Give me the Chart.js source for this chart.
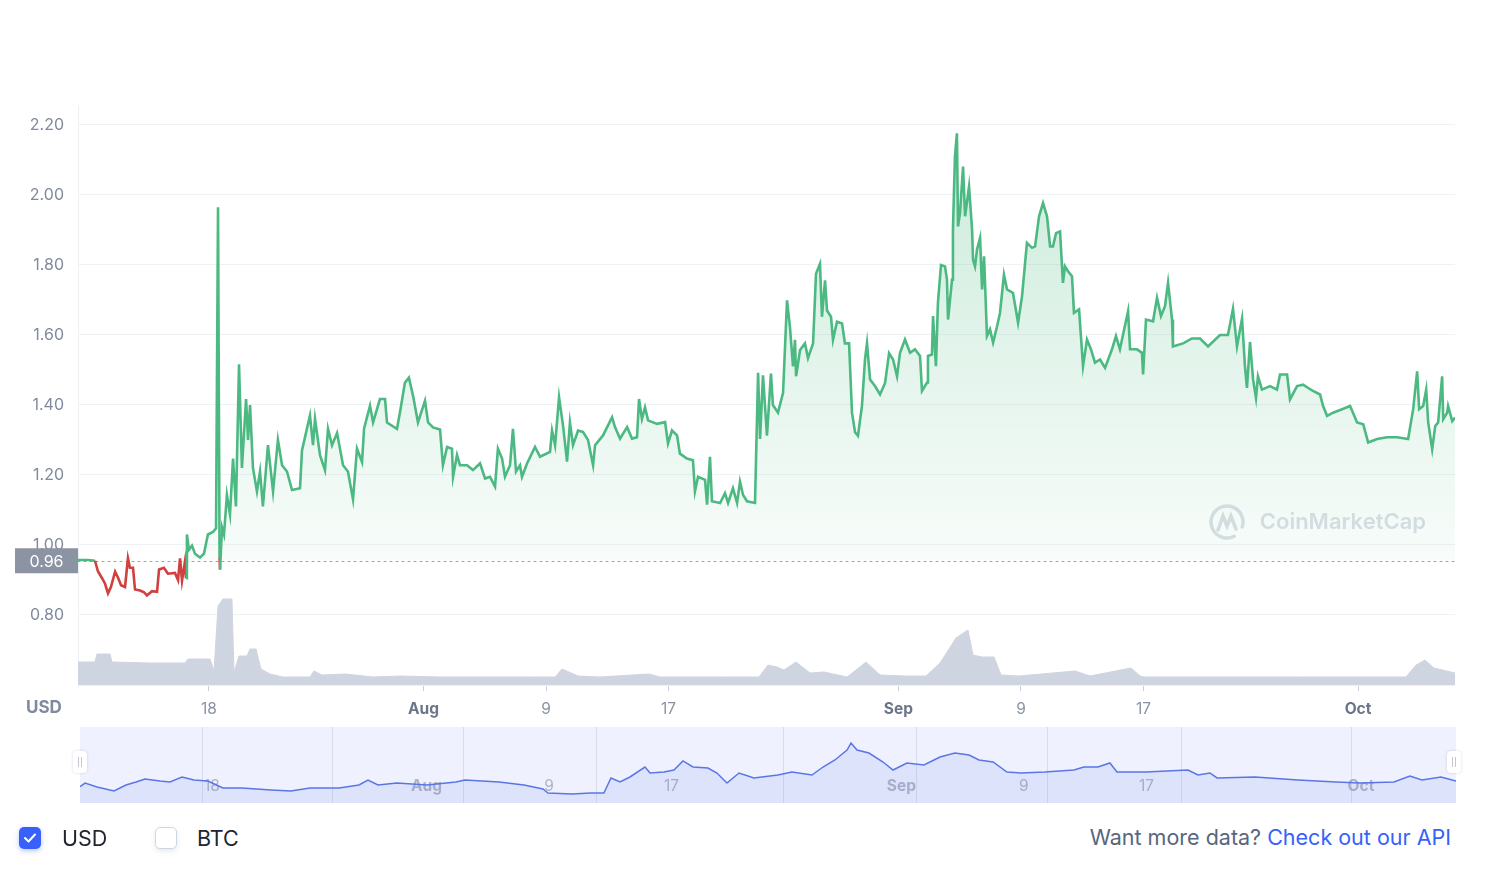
<!DOCTYPE html>
<html>
<head>
<meta charset="utf-8">
<script src="https://cdn.jsdelivr.net/npm/chart.js@4.4.1/dist/chart.umd.min.js"></script>
<style>
  body { margin: 0; background: #fff; font-family: Inter, "Noto Sans", sans-serif; }
  #wrap { position: relative; width: 1488px; height: 876px; overflow: hidden; }
  #main { position: absolute; left: 0; top: 0; }
  #nav { position: absolute; left: 0; top: 720px; }
  .unit { position: absolute; left: 26px; top: 697px; font: 700 17px Inter; color: #808a9d; }
  .cb { position: absolute; width: 22px; height: 22px; border-radius: 5px; box-sizing: border-box; }
  .cb.on { background: #3861fb; box-shadow: 0 2px 5px rgba(56,97,251,0.35); }
  .cb.off { background: #fff; border: 1px solid #cfd6e4; box-shadow: 0 2px 5px rgba(88,102,126,0.15); }
  .lbl { position: absolute; font: 400 21.5px Inter; color: #222531; line-height: 26px; }
  .api { position: absolute; right: 37px; top: 824px; font: 400 21.5px Inter; color: #58667e; line-height: 26px; }
  .api span { color: #3861fb; }
</style>
</head>
<body>
<div id="wrap">
  <canvas id="main" width="1488" height="720"></canvas>
  <canvas id="nav" width="1488" height="90"></canvas>
  <div class="unit">USD</div>
  <div class="cb on" style="left:19px;top:827px">
    <svg width="22" height="22" viewBox="0 0 22 22"><polyline points="6,11 9.5,14.5 16,7.5" fill="none" stroke="#fff" stroke-width="2" stroke-linecap="round" stroke-linejoin="round"/></svg>
  </div>
  <div class="lbl" style="left:62px;top:825px">USD</div>
  <div class="cb off" style="left:155px;top:827px"></div>
  <div class="lbl" style="left:197px;top:825px">BTC</div>
  <div class="api">Want more data? <span>Check out our API</span></div>
</div>
<script>
// x values are days counted from 1 July (18 = Jul 18, 32 = Aug 1, 63 = Sep 1, 93 = Oct 1)
const basePrice = 0.955;
const baseLabel = '0.96';

const price = [
  [9.45,0.957],[10.10,0.957],[10.56,0.955],[10.75,0.925],[11.02,0.905],[11.21,0.89],[11.41,0.862],[11.60,0.88],
  [11.87,0.924],[12.06,0.907],[12.26,0.885],[12.52,0.88],[12.71,0.962],[12.84,0.935],[13.04,0.935],[13.17,0.873],
  [13.50,0.87],[13.76,0.865],[13.95,0.856],[14.28,0.868],[14.61,0.866],[14.74,0.93],[15.06,0.935],[15.32,0.918],
  [15.78,0.92],[15.98,0.90],[16.11,0.962],[16.24,0.898],[16.43,0.952],[16.50,0.905],[16.56,1.03],[16.69,0.986],
  [16.89,0.998],[17.09,0.975],[17.41,0.964],[17.67,0.975],[17.93,1.03],[18.26,1.037],[18.46,1.048],[18.59,1.965],
  [18.69,0.965],[18.72,0.93],[18.85,1.05],[18.98,1.03],[19.17,1.143],[19.37,1.088],[19.57,1.247],[19.76,1.11],
  [19.96,1.516],[20.15,1.22],[20.42,1.417],[20.55,1.30],[20.68,1.40],[20.87,1.22],[21.13,1.153],[21.33,1.21],
  [21.52,1.11],[21.85,1.285],[22.18,1.153],[22.50,1.30],[22.77,1.228],[23.09,1.21],[23.42,1.157],[23.94,1.162],
  [24.07,1.27],[24.59,1.37],[24.79,1.285],[24.92,1.36],[25.25,1.256],[25.57,1.214],[25.77,1.332],[26.03,1.285],
  [26.36,1.32],[26.75,1.228],[27.07,1.21],[27.40,1.13],[27.66,1.275],[27.99,1.237],[28.12,1.332],[28.51,1.398],
  [28.71,1.35],[29.16,1.417],[29.49,1.417],[29.62,1.35],[30.27,1.332],[30.47,1.38],[30.79,1.464],[31.05,1.478],
  [31.32,1.426],[31.64,1.35],[32.10,1.412],[32.30,1.35],[32.62,1.336],[33.08,1.33],[33.27,1.228],[33.54,1.28],
  [33.86,1.275],[33.93,1.195],[34.19,1.257],[34.38,1.228],[34.84,1.228],[35.23,1.214],[35.69,1.233],[36.02,1.19],
  [36.34,1.195],[36.67,1.167],[36.86,1.275],[37.13,1.247],[37.32,1.195],[37.65,1.228],[37.84,1.332],[38.04,1.21],
  [38.30,1.228],[38.43,1.195],[38.76,1.233],[39.28,1.28],[39.61,1.252],[40.26,1.266],[40.39,1.327],[40.59,1.285],
  [40.85,1.422],[41.11,1.341],[41.37,1.238],[41.56,1.35],[41.76,1.285],[42.09,1.327],[42.41,1.323],[42.74,1.30],
  [43.07,1.228],[43.20,1.285],[43.72,1.313],[44.31,1.365],[44.50,1.337],[44.83,1.304],[45.29,1.337],[45.61,1.304],
  [45.94,1.308],[46.07,1.417],[46.26,1.36],[46.46,1.393],[46.66,1.356],[47.24,1.346],[47.77,1.351],[47.96,1.29],
  [48.22,1.327],[48.55,1.313],[48.74,1.261],[49.20,1.247],[49.59,1.242],[49.72,1.153],[49.92,1.195],[50.38,1.186],
  [50.51,1.115],[50.70,1.252],[50.83,1.125],[51.36,1.12],[51.68,1.148],[51.88,1.12],[52.20,1.162],[52.47,1.12],
  [52.66,1.181],[52.86,1.143],[53.12,1.125],[53.64,1.12],[53.84,1.492],[53.97,1.303],[54.16,1.485],[54.42,1.312],
  [54.68,1.49],[54.81,1.40],[55.14,1.378],[55.47,1.435],[55.73,1.699],[55.92,1.623],[56.12,1.51],[56.25,1.586],
  [56.32,1.482],[56.58,1.557],[56.90,1.576],[57.10,1.534],[57.43,1.576],[57.62,1.775],[57.88,1.803],[58.01,1.652],
  [58.21,1.756],[58.34,1.67],[58.60,1.652],[58.73,1.586],[58.99,1.638],[59.32,1.633],[59.51,1.576],[59.78,1.576],
  [59.97,1.378],[60.17,1.322],[60.36,1.312],[60.62,1.397],[60.82,1.53],[60.95,1.576],[61.15,1.473],[61.47,1.454],
  [61.80,1.43],[62.13,1.463],[62.39,1.548],[62.65,1.53],[62.91,1.482],[63.10,1.548],[63.43,1.587],[63.76,1.549],
  [64.08,1.559],[64.41,1.54],[64.54,1.44],[64.87,1.464],[64.93,1.54],[65.19,1.544],[65.26,1.654],[65.45,1.511],
  [65.58,1.692],[65.78,1.80],[66.04,1.796],[66.17,1.758],[66.24,1.644],[66.50,1.758],[66.56,1.90],[66.69,2.11],
  [66.82,2.176],[66.89,1.91],[67.02,1.948],[67.22,2.081],[67.35,1.939],[67.61,2.024],[67.81,1.90],[67.87,1.815],
  [68.00,1.796],[68.13,1.844],[68.33,1.877],[68.46,1.73],[68.59,1.825],[68.78,1.597],[68.98,1.616],[69.18,1.578],
  [69.44,1.625],[69.63,1.663],[69.89,1.772],[70.09,1.73],[70.48,1.72],[70.81,1.635],[71.07,1.711],[71.39,1.863],
  [71.72,1.849],[71.92,1.853],[72.18,1.939],[72.44,1.977],[72.70,1.939],[72.90,1.853],[73.09,1.853],[73.29,1.891],
  [73.55,1.896],[73.74,1.749],[73.87,1.796],[74.07,1.782],[74.33,1.768],[74.46,1.663],[74.79,1.673],[75.05,1.511],
  [75.31,1.587],[75.57,1.559],[75.83,1.521],[76.16,1.53],[76.49,1.506],[76.94,1.559],[77.20,1.597],[77.46,1.559],
  [77.99,1.668],[78.12,1.559],[78.57,1.559],[78.90,1.549],[78.97,1.487],[79.16,1.644],[79.62,1.639],[79.88,1.706],
  [80.14,1.654],[80.40,1.682],[80.60,1.749],[80.86,1.644],[80.92,1.567],[81.58,1.576],[82.16,1.59],[82.69,1.59],
  [83.21,1.567],[83.99,1.60],[84.51,1.60],[84.84,1.675],[85.10,1.567],[85.43,1.647],[85.62,1.51],[85.75,1.449],
  [85.95,1.58],[86.15,1.473],[86.34,1.42],[86.47,1.482],[86.73,1.444],[87.26,1.454],[87.71,1.444],[87.91,1.487],
  [88.37,1.487],[88.56,1.416],[89.02,1.454],[89.41,1.458],[90.06,1.44],[90.52,1.43],[90.72,1.397],[90.98,1.369],
  [91.37,1.378],[91.96,1.388],[92.48,1.397],[92.94,1.35],[93.34,1.345],[93.66,1.293],[94.25,1.303],[94.90,1.308],
  [95.55,1.308],[96.27,1.303],[96.60,1.388],[96.86,1.496],[96.99,1.388],[97.25,1.397],[97.45,1.444],[97.58,1.35],
  [97.84,1.274],[98.04,1.34],[98.23,1.35],[98.49,1.482],[98.56,1.359],[98.82,1.378],[98.88,1.397],[99.15,1.354],
  [99.33,1.364]
];

// volume, millions USD
const volume = [
  [9.45,2.3],[10.56,2.3],[10.69,3.1],[11.54,3.1],[11.67,2.3],[14.15,2.2],[16.43,2.2],[16.63,2.6],[18.07,2.6],
  [18.33,1.4],[18.59,7.9],[18.91,8.6],[19.50,8.6],[19.63,1.3],[19.96,2.9],[20.48,2.9],[20.68,3.6],[21.07,3.6],
  [21.39,1.6],[21.98,1.1],[22.83,0.8],[24.59,0.8],[24.85,1.4],[25.38,1.0],[26.88,1.1],[28.71,0.8],[30.47,0.9],
  [33.08,0.8],[35.69,0.8],[38.95,0.8],[40.59,0.8],[41.04,1.6],[42.09,0.9],[43.52,0.8],[46.72,1.1],[47.44,0.8],
  [51.36,0.8],[53.90,0.8],[54.49,2.0],[55.08,1.8],[55.53,1.5],[56.32,2.3],[57.23,1.2],[58.14,1.3],[59.65,0.8],
  [60.89,2.3],[61.80,1.0],[63.43,0.9],[64.80,0.9],[65.72,2.2],[66.76,4.7],[67.54,5.5],[67.87,3.0],[68.46,2.8],
  [69.24,2.8],[69.70,1.0],[70.87,0.9],[74.53,1.4],[75.51,0.9],[78.18,1.7],[78.77,0.9],[79.10,0.8],[89.04,0.8],
  [96.13,0.8],[96.79,2.0],[97.37,2.5],[97.95,1.7],[99.33,1.2]
];

// navigator overview line
const navLine = [
  [9.58,1.10],[9.91,1.168],[10.69,1.095],[11.80,1.021],[12.58,1.132],[13.24,1.187],[13.82,1.242],[14.80,1.205],
  [15.45,1.187],[16.24,1.279],[17.02,1.224],[17.93,1.205],[18.91,1.076],[20.15,1.076],[22.05,1.04],[23.35,1.021],
  [24.59,1.076],[26.49,1.076],[27.79,1.132],[28.38,1.224],[29.03,1.132],[30.27,1.168],[32.23,1.132],[34.12,1.187],
  [34.71,1.224],[36.93,1.187],[38.56,1.132],[39.80,1.058],[40.13,0.984],[41.69,0.966],[42.93,0.984],[43.78,0.984],
  [44.24,1.261],[44.83,1.187],[45.48,1.279],[46.46,1.463],[46.79,1.353],[47.70,1.371],[48.35,1.408],[48.94,1.574],
  [49.59,1.463],[50.57,1.445],[51.16,1.353],[51.81,1.168],[52.60,1.353],[53.57,1.261],[55.14,1.316],[56.05,1.371],
  [57.36,1.316],[58.08,1.463],[58.86,1.592],[59.65,1.776],[59.91,1.905],[60.30,1.776],[61.08,1.721],[62.00,1.555],
  [62.65,1.408],[63.56,1.537],[64.67,1.50],[65.72,1.647],[66.69,1.721],[67.61,1.684],[68.26,1.592],[69.18,1.555],
  [70.09,1.371],[71.00,1.353],[72.57,1.371],[74.46,1.408],[75.11,1.463],[76.03,1.463],[76.81,1.537],[77.27,1.371],
  [79.16,1.371],[81.90,1.408],[82.56,1.316],[83.34,1.353],[83.80,1.261],[86.28,1.279],[89.08,1.224],[91.56,1.187],
  [93.13,1.168],[95.35,1.187],[96.39,1.297],[97.18,1.224],[98.42,1.279],[99.40,1.205]
];

const tickDays = [18, 32, 40, 48, 63, 71, 79, 93];
const tickLabels = ['18', 'Aug', '9', '17', 'Sep', '9', '17', 'Oct'];
const monthTick = [false, true, false, false, true, false, false, true];
const yTicks = [0.8, 1.0, 1.2, 1.4, 1.6, 1.8, 2.0, 2.2];
const navGridDays = [17.54, 26.03, 34.58, 43.26, 55.47, 64.15, 72.70, 81.45, 92.54];

const green = '#4cb982';
const red = '#d23f3f';

const overlay = {
  id: 'overlay',
  beforeDatasetsDraw(chart) {
    const {ctx, chartArea: a, scales: {y}} = chart;
    ctx.save();
    // watermark
    const wy = a.bottom - 163, tx = a.right - 29;
    ctx.fillStyle = 'rgba(190,196,210,0.55)';
    ctx.strokeStyle = 'rgba(190,196,210,0.55)';
    ctx.font = '600 22px Inter';
    ctx.textAlign = 'right';
    ctx.textBaseline = 'middle';
    ctx.fillText('CoinMarketCap', tx, wy);
    const cx = tx - 199;
    ctx.lineWidth = 3.5;
    ctx.lineCap = 'round';
    ctx.beginPath();
    ctx.arc(cx, wy, 16, 0.35 * Math.PI, 2.1 * Math.PI);
    ctx.stroke();
    ctx.beginPath();
    ctx.moveTo(cx - 9, wy + 8);
    ctx.lineTo(cx - 4, wy - 6);
    ctx.lineTo(cx, wy + 4);
    ctx.lineTo(cx + 4, wy - 6);
    ctx.lineTo(cx + 9, wy + 7);
    ctx.stroke();
    // dotted base line
    const by = Math.round(y.getPixelForValue(basePrice)) + 0.5;
    ctx.setLineDash([2, 4]);
    ctx.lineWidth = 1;
    ctx.strokeStyle = '#9aa1b0';
    ctx.beginPath();
    ctx.moveTo(a.left, by);
    ctx.lineTo(a.right, by);
    ctx.stroke();
    ctx.restore();
  },
  afterDraw(chart) {
    const {ctx, chartArea: a, scales: {y}} = chart;
    const by = y.getPixelForValue(basePrice);
    ctx.save();
    ctx.fillStyle = '#8c93a3';
    ctx.fillRect(15, by - 12.5, a.left - 15, 25);
    ctx.fillStyle = '#fff';
    ctx.font = '16px Inter';
    ctx.textAlign = 'center';
    ctx.textBaseline = 'middle';
    ctx.fillText(baseLabel, (15 + a.left) / 2, by + 1);
    ctx.restore();
  }
};

new Chart(document.getElementById('main'), {
  type: 'line',
  data: {
    datasets: [{
      data: price.map(p => ({x: p[0], y: p[1]})),
      borderColor: green,
      borderWidth: 2.6,
      pointRadius: 0,
      order: 0,
      segment: {
        borderColor: c => (c.p0.parsed.y + c.p1.parsed.y) / 2 < basePrice ? red : green
      },
      backgroundColor: c => {
        const a = c.chart.chartArea;
        if (!a) return 'transparent';
        const g = c.chart.ctx.createLinearGradient(0, a.top, 0, c.chart.scales.y.getPixelForValue(basePrice));
        g.addColorStop(0, 'rgba(76,185,130,0.30)');
        g.addColorStop(1, 'rgba(76,185,130,0.04)');
        return g;
      },
      fill: {target: {value: basePrice}, below: 'rgba(255,255,255,0)'}
    }, {
      data: volume.map(p => ({x: p[0], y: p[1]})),
      yAxisID: 'v',
      borderColor: '#cfd4e1',
      backgroundColor: '#cfd4e1',
      borderWidth: 1,
      pointRadius: 0,
      fill: 'origin',
      order: 1
    }]
  },
  options: {
    responsive: false,
    animation: false,
    layout: {padding: {top: 105, right: 33, left: 0, bottom: 0}},
    plugins: {legend: {display: false}, tooltip: {enabled: false}},
    scales: {
      x: {
        type: 'linear',
        min: 9.45,
        max: 99.33,
        afterBuildTicks: s => { s.ticks = tickDays.map(v => ({value: v})); },
        afterFit: s => { s.height = 35; },
        grid: {drawOnChartArea: false, drawTicks: true, tickLength: 6, color: '#c9ced8'},
        border: {color: '#eff2f5'},
        ticks: {
          maxRotation: 0,
          padding: 9,
          callback: (v, i) => tickLabels[i],
          color: c => monthTick[c.index] ? '#6b7589' : '#8a93a6',
          font: c => ({family: 'Inter', size: 15.5, weight: monthTick[c.index] ? '700' : '400'})
        }
      },
      y: {
        min: 0.6,
        max: 2.257,
        afterBuildTicks: s => { s.ticks = yTicks.map(v => ({value: v})); },
        afterFit: s => { s.width = 78; },
        grid: {drawTicks: false, color: '#eff2f5'},
        border: {color: '#eceff3'},
        ticks: {
          padding: 14,
          color: '#808a9d',
          font: {family: 'Inter', size: 16},
          callback: v => v.toFixed(2)
        }
      },
      v: {display: false, min: 0, max: 58}
    }
  },
  plugins: [overlay]
});

const navDecor = {
  id: 'navDecor',
  beforeDraw(chart) {
    const {ctx, chartArea: a} = chart;
    ctx.save();
    ctx.fillStyle = '#eff2fe';
    ctx.fillRect(a.left, a.top, a.right - a.left, a.bottom - a.top);
    ctx.restore();
  },
  beforeDatasetsDraw(chart) {
    const {ctx, chartArea: a, scales: {x}} = chart;
    ctx.save();
    ctx.strokeStyle = 'rgba(200,206,225,0.6)';
    ctx.lineWidth = 1;
    navGridDays.forEach(d => {
      const px = Math.round(x.getPixelForValue(d)) + 0.5;
      ctx.beginPath();
      ctx.moveTo(px, a.top);
      ctx.lineTo(px, a.bottom);
      ctx.stroke();
    });
    ctx.textAlign = 'center';
    ctx.textBaseline = 'middle';
    ctx.fillStyle = 'rgba(128,138,157,0.6)';
    tickDays.forEach((d, i) => {
      ctx.font = (monthTick[i] ? '700 ' : '400 ') + '15.5px Inter';
      ctx.fillText(tickLabels[i], x.getPixelForValue(d) + 3, a.bottom - 17);
    });
    ctx.restore();
  },
  afterDraw(chart) {
    const {ctx, chartArea: a} = chart;
    ctx.save();
    [a.left, a.right - 2].forEach(hx => {
      const hy = (a.top + a.bottom) / 2 - 3;
      ctx.shadowColor = 'rgba(0,0,0,0.15)';
      ctx.shadowBlur = 3;
      ctx.fillStyle = '#fff';
      ctx.beginPath();
      ctx.roundRect(hx - 7, hy - 11, 14, 22, 4);
      ctx.fill();
      ctx.shadowBlur = 0;
      ctx.strokeStyle = '#c2c7d3';
      ctx.lineWidth = 1;
      ctx.beginPath();
      ctx.moveTo(hx - 1.5, hy - 5); ctx.lineTo(hx - 1.5, hy + 5);
      ctx.moveTo(hx + 1.5, hy - 5); ctx.lineTo(hx + 1.5, hy + 5);
      ctx.stroke();
    });
    ctx.restore();
  }
};

new Chart(document.getElementById('nav'), {
  type: 'line',
  data: {
    datasets: [{
      data: navLine.map(p => ({x: p[0], y: p[1]})),
      borderColor: '#5b75e6',
      borderWidth: 1.5,
      pointRadius: 0,
      backgroundColor: 'rgba(100,125,235,0.12)',
      fill: 'start'
    }]
  },
  options: {
    responsive: false,
    animation: false,
    layout: {padding: {top: 7, right: 32, left: 80, bottom: 7}},
    plugins: {legend: {display: false}, tooltip: {enabled: false}},
    scales: {
      x: {type: 'linear', display: false, min: 9.58, max: 99.40},
      y: {display: false, min: 0.8, max: 2.2}
    }
  },
  plugins: [navDecor]
});
</script>
</body>
</html>
